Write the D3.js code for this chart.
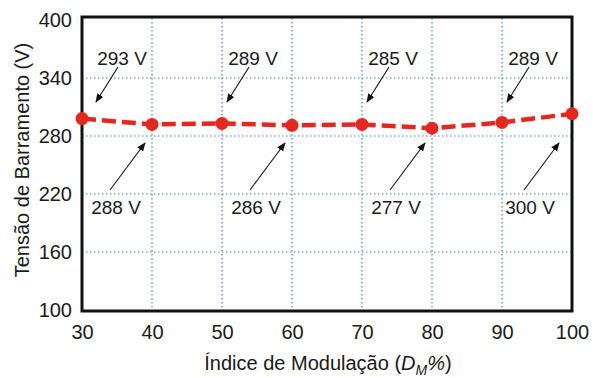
<!DOCTYPE html>
<html><head><meta charset="utf-8">
<script src="https://cdn.jsdelivr.net/npm/d3@7"></script>
<style>
html,body{margin:0;padding:0;background:#fff;}
svg{display:block;font-family:"Liberation Sans",Arial,sans-serif;}
</style></head>
<body>
<svg id="c" width="593" height="378"></svg>
<script>
const xValues = [30, 40, 50, 60, 70, 80, 90, 100];
const yValues = [298, 292, 293, 291, 292, 288, 294, 303];
const xTicks = [30, 40, 50, 60, 70, 80, 90, 100];
const yTicks = [100, 160, 220, 280, 340, 400];
const topLabels = [{x: 30, t: "293 V"}, {x: 50, t: "289 V"}, {x: 70, t: "285 V"}, {x: 90, t: "289 V"}];
const bottomLabels = [{x: 40, t: "288 V"}, {x: 60, t: "286 V"}, {x: 80, t: "277 V"}, {x: 100, t: "300 V"}];

const svg = d3.select("#c");
const L = 82, R = 572, T = 20, B = 310;
const xs = d3.scaleLinear().domain([30, 100]).range([L, R]);
const ys = d3.scaleLinear().domain([100, 400]).range([B, T]);

// grid
const grid = svg.append("g").attr("stroke", "#3d8db5").attr("stroke-width", 1.2).attr("stroke-dasharray", "1.5,2.5");
grid.selectAll("line.v").data(xTicks.slice(1, -1)).join("line")
  .attr("x1", d => xs(d)).attr("x2", d => xs(d)).attr("y1", T - 2).attr("y2", B);
grid.selectAll("line.h").data(yTicks.slice(1, -1)).join("line")
  .attr("y1", d => ys(d)).attr("y2", d => ys(d)).attr("x1", L).attr("x2", R);

// axes
const xAxis = svg.append("g").attr("transform", `translate(0,${B})`)
  .call(d3.axisBottom(xs).tickValues(xTicks).tickSize(0).tickPadding(15).tickFormat(d3.format("d")));
const yAxis = svg.append("g").attr("transform", `translate(${L},0)`)
  .call(d3.axisLeft(ys).tickValues(yTicks).tickSize(0).tickPadding(10).tickFormat(d3.format("d")));
[xAxis, yAxis].forEach(a => {
  a.select(".domain").remove();
  a.selectAll("text").attr("font-size", 20).attr("fill", "#1a1a1a").attr("font-family", "Liberation Sans, Arial, sans-serif");
});

// frame
svg.append("rect").attr("x", xs(30)).attr("y", ys(400) - 3).attr("width", xs(100) - xs(30)).attr("height", ys(100) - ys(400) + 4)
  .attr("fill", "none").attr("stroke", "#111").attr("stroke-width", 3);

// line
const data = xValues.map((x, i) => ({x, y: yValues[i]}));
svg.append("path").datum(data)
  .attr("d", d3.line().x(d => xs(d.x)).y(d => ys(d.y)))
  .attr("fill", "none").attr("stroke", "#e5281f").attr("stroke-width", 4.5).attr("stroke-dasharray", "14,6");
svg.selectAll("circle.p").data(data).join("circle")
  .attr("cx", d => xs(d.x)).attr("cy", d => ys(d.y)).attr("r", 6.5).attr("fill", "#e5281f");

// arrow marker
svg.append("defs").append("marker").attr("id", "ah").attr("viewBox", "0 0 10 10")
  .attr("refX", 9).attr("refY", 5).attr("markerWidth", 9).attr("markerHeight", 9)
  .attr("markerUnits", "userSpaceOnUse").attr("orient", "auto")
  .append("path").attr("d", "M0,1 L10,5 L0,9 Z").attr("fill", "#111");

// top annotations
const topG = svg.append("g");
topLabels.forEach(a => {
  const tip = Math.max(xs(a.x) + 5, L + 14);
  topG.append("line").attr("x1", tip + 22).attr("y1", 67).attr("x2", tip).attr("y2", 102)
    .attr("stroke", "#111").attr("stroke-width", 1.1).attr("marker-end", "url(#ah)");
  topG.append("text").attr("x", tip + 26).attr("y", 58).attr("text-anchor", "middle").attr("dy", "0.35em")
    .attr("font-size", 19).attr("fill", "#1a1a1a").text(a.t);
});
// bottom annotations
const botG = svg.append("g");
bottomLabels.forEach(a => {
  const tip = Math.min(xs(a.x) - 7, R - 13);
  botG.append("line").attr("x1", tip - 35).attr("y1", 190).attr("x2", tip).attr("y2", 143)
    .attr("stroke", "#111").attr("stroke-width", 1.1).attr("marker-end", "url(#ah)");
  botG.append("text").attr("x", tip - 29).attr("y", 207).attr("text-anchor", "middle").attr("dy", "0.35em")
    .attr("font-size", 19).attr("fill", "#1a1a1a").text(a.t);
});

// axis titles
const xt = svg.append("text").attr("x", 328).attr("y", 363).attr("text-anchor", "middle").attr("dy", "0.35em")
  .attr("font-size", 20).attr("fill", "#1a1a1a");
xt.append("tspan").text("Índice de Modulação (");
xt.append("tspan").attr("font-style", "italic").text("D");
xt.append("tspan").attr("font-style", "italic").attr("font-size", 14).attr("dy", "5").text("M");
xt.append("tspan").attr("font-style", "italic").attr("dy", "-5").text("%");
xt.append("tspan").text(")");

svg.append("text").attr("transform", "translate(22,160) rotate(-90)").attr("text-anchor", "middle").attr("dy", "0.35em")
  .attr("font-size", 20).attr("fill", "#1a1a1a").text("Tensão de Barramento (V)");
</script>
</body></html>
